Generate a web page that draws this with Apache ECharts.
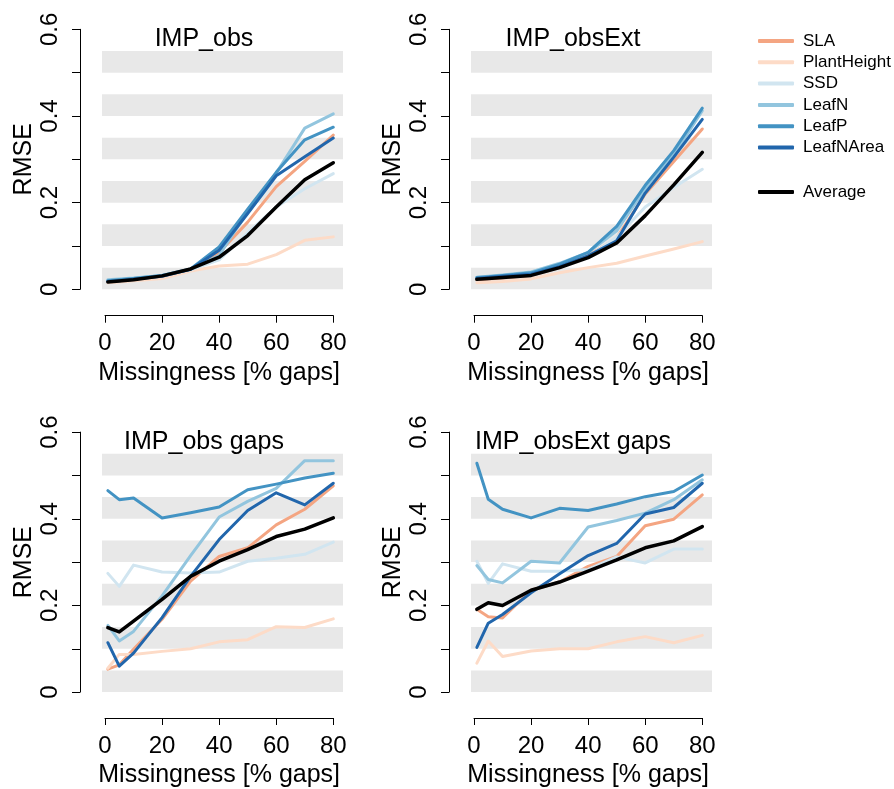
<!DOCTYPE html>
<html>
<head>
<meta charset="utf-8">
<script src="https://cdn.jsdelivr.net/npm/echarts@6/dist/echarts.min.js"></script>
<style>
  html, body { margin: 0; padding: 0; background: #fff; }
  #chart { width: 894px; height: 789px; }
</style>
</head>
<body>
<div id="chart"></div>
<script>
// missingness levels (% gaps)
const xVals = [1, 5, 10, 20, 30, 40, 50, 60, 70, 80];
const traits = ['SLA', 'PlantHeight', 'SSD', 'LeafN', 'LeafP', 'LeafNArea', 'Average'];

// RMSE per trait, same order as traits
const impObs = [
  [0.018, 0.020, 0.022, 0.028, 0.045, 0.085, 0.155, 0.237, 0.295, 0.356],
  [0.015, 0.017, 0.020, 0.025, 0.042, 0.054, 0.058, 0.080, 0.113, 0.121],
  [0.020, 0.022, 0.025, 0.032, 0.045, 0.068, 0.130, 0.190, 0.232, 0.267],
  [0.022, 0.024, 0.026, 0.032, 0.046, 0.078, 0.180, 0.268, 0.372, 0.405],
  [0.020, 0.022, 0.025, 0.032, 0.047, 0.098, 0.185, 0.270, 0.345, 0.374],
  [0.018, 0.020, 0.023, 0.030, 0.046, 0.090, 0.175, 0.262, 0.306, 0.349],
  [0.017, 0.019, 0.022, 0.031, 0.047, 0.074, 0.124, 0.190, 0.253, 0.292]
];
const impObsExt = [
  [0.022, 0.024, 0.026, 0.032, 0.050, 0.078, 0.118, 0.220, 0.295, 0.370],
  [0.015, 0.016, 0.018, 0.024, 0.038, 0.050, 0.060, 0.077, 0.093, 0.110],
  [0.025, 0.027, 0.030, 0.036, 0.055, 0.075, 0.120, 0.190, 0.235, 0.277],
  [0.028, 0.030, 0.033, 0.040, 0.060, 0.085, 0.135, 0.232, 0.310, 0.412],
  [0.027, 0.029, 0.032, 0.038, 0.058, 0.085, 0.145, 0.240, 0.320, 0.418],
  [0.025, 0.027, 0.030, 0.035, 0.052, 0.077, 0.112, 0.222, 0.305, 0.392],
  [0.023, 0.025, 0.027, 0.032, 0.050, 0.073, 0.107, 0.170, 0.241, 0.316]
];
const impObsGaps = [
  [0.053, 0.063, 0.099, 0.168, 0.256, 0.313, 0.333, 0.386, 0.422, 0.476],
  [0.055, 0.087, 0.087, 0.094, 0.100, 0.116, 0.121, 0.151, 0.149, 0.169],
  [0.274, 0.244, 0.293, 0.277, 0.275, 0.277, 0.302, 0.309, 0.318, 0.346],
  [0.154, 0.118, 0.140, 0.222, 0.315, 0.404, 0.440, 0.470, 0.534, 0.534],
  [0.465, 0.444, 0.448, 0.402, 0.414, 0.427, 0.467, 0.480, 0.494, 0.505],
  [0.114, 0.060, 0.090, 0.172, 0.267, 0.352, 0.419, 0.460, 0.432, 0.482],
  [0.149, 0.139, 0.164, 0.214, 0.267, 0.302, 0.329, 0.359, 0.376, 0.402]
];
const impObsExtGaps = [
  [0.191, 0.174, 0.171, 0.235, 0.254, 0.290, 0.313, 0.384, 0.399, 0.455],
  [0.067, 0.118, 0.082, 0.095, 0.100, 0.100, 0.116, 0.128, 0.114, 0.131],
  [0.302, 0.251, 0.296, 0.279, 0.279, 0.283, 0.312, 0.298, 0.330, 0.330],
  [0.292, 0.260, 0.252, 0.302, 0.298, 0.381, 0.396, 0.413, 0.444, 0.490],
  [0.528, 0.445, 0.422, 0.402, 0.424, 0.419, 0.434, 0.451, 0.463, 0.501],
  [0.103, 0.159, 0.179, 0.229, 0.273, 0.315, 0.343, 0.411, 0.426, 0.482],
  [0.191, 0.206, 0.200, 0.235, 0.254, 0.279, 0.305, 0.333, 0.349, 0.382]
];

// grey background stripes (RMSE ranges)
const bands = [[0, 0.05], [0.1, 0.15], [0.2, 0.25], [0.3, 0.35], [0.4, 0.45], [0.5, 0.55]];

const colors = ['#F4A582', '#FDDBC7', '#D1E5F0', '#92C5DE', '#4393C3', '#2166AC', '#000000'];
const FONT = '"Liberation Sans", Arial, Helvetica, sans-serif';
const XMIN = -1.05, XMAX = 83.4;

const panels = [
  { title: 'IMP_obs', data: impObs, col: 0, row: 0 },
  { title: 'IMP_obsExt', data: impObsExt, col: 1, row: 0 },
  { title: 'IMP_obs gaps', data: impObsGaps, col: 0, row: 1 },
  { title: 'IMP_obsExt gaps', data: impObsExtGaps, col: 1, row: 1 }
];

const chart = echarts.init(document.getElementById('chart'), null, { renderer: 'canvas' });

const grid = [], xAxis = [], yAxis = [], series = [], title = [];

panels.forEach((p, k) => {
  const dx = p.col * 369;
  const dy = p.row * 402.8;
  const g = k * 3;

  // plot region, x axis strip, y axis strip
  grid.push({ left: 102 + dx, top: 29.3 + dy, width: 241, height: 260 });
  grid.push({ left: 105 + dx, top: 314.7 + dy, width: 228.3, height: 1 });
  grid.push({ left: 80 + dx, top: 29.3 + dy, width: 1, height: 260 });

  xAxis.push({ gridIndex: g, type: 'value', min: XMIN, max: XMAX, show: false });
  xAxis.push({
    gridIndex: g + 1, type: 'value', min: 0, max: 80, interval: 20, position: 'bottom',
    axisLine: { show: true, lineStyle: { color: '#000', width: 1 } },
    axisTick: { show: true, length: 7, lineStyle: { color: '#000' } },
    axisLabel: { color: '#000', fontSize: 24, fontFamily: FONT, margin: 16 },
    splitLine: { show: false },
    name: 'Missingness [% gaps]', nameLocation: 'middle', nameGap: 45,
    nameTextStyle: { color: '#000', fontSize: 25, fontFamily: FONT }
  });
  xAxis.push({ gridIndex: g + 2, type: 'value', show: false });

  yAxis.push({ gridIndex: g, type: 'value', min: 0, max: 0.6, show: false });
  yAxis.push({ gridIndex: g + 1, type: 'value', show: false });
  yAxis.push({
    gridIndex: g + 2, type: 'value', min: 0, max: 0.6, interval: 0.1, position: 'left',
    axisLine: { show: true, lineStyle: { color: '#000', width: 1 } },
    axisTick: { show: true, length: 8, lineStyle: { color: '#000' } },
    axisLabel: {
      color: '#000', fontSize: 24, fontFamily: FONT, rotate: 90, margin: 18,
      formatter: v => {
        const t = Math.round(v * 10);
        return t % 2 ? '' : (t === 0 ? '0' : (t / 10).toFixed(1));
      }
    },
    splitLine: { show: false },
    name: 'RMSE', nameLocation: 'middle', nameGap: 43, nameRotate: 90,
    nameTextStyle: { color: '#000', fontSize: 25, fontFamily: FONT }
  });

  title.push({
    text: p.title, left: 199 + dx, top: 22 + dy, textAlign: 'center',
    textStyle: { color: '#000', fontSize: 25, fontWeight: 'normal', fontFamily: FONT }
  });

  // stripes
  series.push({
    type: 'line', xAxisIndex: g, yAxisIndex: g, data: [], silent: true,
    markArea: {
      silent: true,
      itemStyle: { color: '#E8E8E8' },
      data: bands.map(b => [{ xAxis: XMIN, yAxis: b[0] }, { xAxis: XMAX, yAxis: b[1] }])
    }
  });

  traits.forEach((name, i) => {
    series.push({
      name: name, type: 'line', xAxisIndex: g, yAxisIndex: g,
      data: xVals.map((x, j) => [x, p.data[i][j]]),
      symbol: 'none', color: colors[i],
      lineStyle: { color: colors[i], width: name === 'Average' ? 3.5 : 3, cap: 'round', join: 'round' }
    });
  });
});

const legendBase = {
  orient: 'vertical', left: 753, icon: 'roundRect', itemWidth: 36, itemHeight: 4,
  itemGap: 4.3, selectedMode: false,
  textStyle: { color: '#000', fontSize: 17, lineHeight: 17, fontFamily: FONT, padding: [0, 0, 0, 4] }
};

const option = {
  animation: false,
  backgroundColor: '#fff',
  title: title,
  legend: [
    Object.assign({}, legendBase, { top: 27.5, data: traits.slice(0, 6) }),
    Object.assign({}, legendBase, { top: 178.5, data: ['Average'] })
  ],
  grid: grid,
  xAxis: xAxis,
  yAxis: yAxis,
  series: series
};

chart.setOption(option);
</script>
</body>
</html>
